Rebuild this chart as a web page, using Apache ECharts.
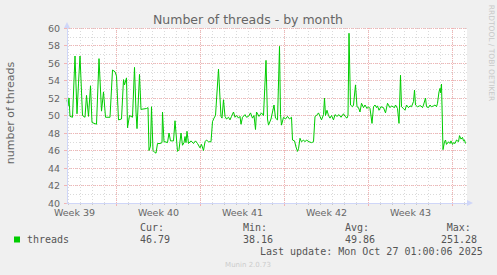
<!DOCTYPE html>
<html>
<head>
<meta charset="utf-8">
<script src="https://cdn.jsdelivr.net/npm/echarts@6/dist/echarts.min.js"></script>
<style>
html,body{margin:0;padding:0;background:#f0f0f0;}
#chart{width:497px;height:275px;}
</style>
</head>
<body>
<div id="chart"></div>
<script>
// Time: hours since the start of Week 40 (Monday 00:00)
const hours = [
  -99,-97,-95,-93,-88,-83,-79,-76,-73,-68,-63,-60,-56,-52,-49,-40,-35,-30,-26,-22,
  -13,-8,-3,0,4,10,14,16,20,22,26,32,36,39,41,46,49,60,63,65,
  68,70,73,76,79,82,87,91,92,95,
  97,102,105,108,114,117,122,125,129,132,135,137,139,141,144,149,154,158,162,167,
  170,174,177,180,184,189,192,195,198,204,207,209,211,214,217,220,224,227,230,234,
  237,240,244,247,249,252,257,260,264,268,272,275,278,280,285,290,294,299,302,
  304,309,315,318,322,326,328,330,334,338,342,346,350,352,356,359,362,364,367,370,
  374,377,380,385,390,394,397,400,404,407,410,414,416,418,421,424,427,430,434,437,
  441,445,449,454,457,461,463,465,468,472,474,478,481,484,487,490,494,497,501,
  504,507,511,514,517,520,522,525,529,534,538,542,547,550,556,558,562,565,568,570,
  574,577,580,584,587,590,594,596,598,602,606,609,612,614,618,620,624,627,630,634,
  637,640,642,645,647,648,650,653,656,658,660,664,667,669,672,674,677,680,684,686,
  689,692,694,696,698
];
const threads = [
  51.8,51.1,52.0,49.9,49.8,56.8,50.2,53.7,56.8,50.0,49.8,52.3,49.9,53.4,49.2,49.0,56.5,50.5,52.7,49.8,
  49.8,55.2,55.0,54.5,49.5,49.6,54.1,53.5,54.3,48.6,50.0,49.8,55.5,50.4,48.5,54.7,50.7,50.8,50.9,46.0,
  46.5,51.0,46.0,45.8,45.7,46.8,46.8,46.9,50.4,47.0,
  47.0,46.9,48.0,47.1,47.1,49.4,45.9,46.1,48.0,46.6,46.9,47.6,46.9,48.2,46.8,47.1,46.8,47.1,46.8,46.3,
  46.7,46.0,47.0,47.2,47.0,47.0,49.3,49.7,50.0,55.3,52.0,49.9,49.7,51.8,49.9,49.6,49.8,49.5,49.9,50.4,
  49.8,50.0,49.7,49.9,49.0,49.8,50.1,49.8,49.9,50.3,49.7,50.0,48.4,50.4,49.9,50.3,50.0,56.3,49.6,
  48.9,49.6,51.2,49.7,49.5,57.9,50.1,48.9,49.8,49.6,49.9,49.6,49.8,47.2,47.1,46.4,45.9,46.2,47.4,47.0,
  47.2,47.0,47.2,47.0,46.9,47.0,49.9,50.0,50.3,49.9,49.5,50.1,52.0,50.0,50.6,50.0,49.7,50.0,49.5,50.1,
  49.9,50.1,49.8,50.2,49.9,49.7,50.0,59.4,51.2,51.0,51.2,53.5,51.0,50.9,50.4,51.4,50.9,51.2,50.8,
  51.0,50.8,49.1,51.0,51.2,50.9,51.1,50.6,51.0,50.9,50.3,51.4,50.9,51.1,50.9,51.2,50.8,49.1,54.6,51.0,
  50.8,50.6,51.2,50.9,51.1,51.0,51.6,52.9,51.2,51.0,51.1,51.1,50.9,51.2,52.0,51.0,50.9,51.2,51.0,51.1,
  51.2,51.0,51.4,52.7,53.1,52.6,53.6,46.1,47.0,47.2,46.7,47.0,46.8,47.1,46.7,46.9,46.8,47.2,47.0,47.7,
  47.3,47.5,47.1,47.2,46.8
];
const weekLabels = ['Week 39','Week 40','Week 41','Week 42','Week 43'];
const weekLabelPos = [-84, 84, 252, 420, 588];
const weekLines = [0, 168, 336, 504, 672];
const legendNames = ['Cur:','Min:','Avg:','Max:'];
const legendValues = ['46.79','38.16','49.86','251.28'];
const seriesName = 'threads';
const lastUpdate = 'Last update: Mon Oct 27 01:00:06 2025';

const X_MIN = -99, X_MAX = 701;
const dayLines = [];
for (let h = -96; h <= X_MAX; h += 24) dayLines.push(h);

const FONT = '"DejaVu Sans", sans-serif';
const MONO = '"DejaVu Sans Mono", monospace';
const AXIS_COL = '#CFD6F8';
const GRID_COL = '#dadada';
const MGRID_COL = '#f2b4b4';
const TXT = '#666666';

const chart = echarts.init(document.getElementById('chart'), null, {renderer: 'svg'});
const data = hours.map((h, i) => [h, threads[i]]);

const xBase = {type: 'value', min: X_MIN, max: X_MAX, position: 'bottom', gridIndex: 0};
const yBase = {type: 'value', min: 40, max: 60, position: 'left', gridIndex: 0};

chart.setOption({
  animation: false,
  backgroundColor: '#f0f0f0',
  grid: {left: 67, top: 28, width: 400, height: 175, show: true, backgroundColor: '#ffffff',
         borderWidth: 0, containLabel: false, outerBoundsMode: 'none'},
  xAxis: [
    Object.assign({}, xBase, {
      axisLine: {show: false, onZero: false},
      axisTick: {show: true, customValues: dayLines, length: 2, lineStyle: {color: '#c8c8c8'}},
      axisLabel: {show: false},
      splitLine: {show: true, lineStyle: {color: GRID_COL, width: 1, type: [1, 2]}}
    }),
    Object.assign({}, xBase, {
      axisLine: {show: false, onZero: false},
      axisTick: {show: true, customValues: weekLines, length: 3, lineStyle: {color: MGRID_COL}},
      axisLabel: {show: false},
      splitLine: {show: true, lineStyle: {color: MGRID_COL, width: 1, type: [1, 1]}}
    }),
    Object.assign({}, xBase, {
      z: 3,
      axisLine: {show: true, onZero: false, lineStyle: {color: AXIS_COL, width: 1},
                 symbol: ['none', 'triangle'], symbolSize: [6, 6], symbolOffset: [0, 3]},
      axisTick: {show: false},
      axisLabel: {show: true, customValues: weekLabelPos, margin: 4, color: TXT,
                  fontSize: 9.5, fontFamily: FONT,
                  formatter: v => weekLabels[weekLabelPos.indexOf(Math.round(v))] || ''},
      splitLine: {show: false}
    })
  ],
  yAxis: [
    Object.assign({}, yBase, {
      interval: 1,
      axisLine: {show: false, onZero: false},
      axisTick: {show: false},
      axisLabel: {show: false},
      splitLine: {show: true, lineStyle: {color: GRID_COL, width: 1, type: [1, 2]}}
    }),
    Object.assign({}, yBase, {
      interval: 2,
      axisLine: {show: false, onZero: false},
      axisTick: {show: true, length: 3, lineStyle: {color: MGRID_COL}},
      axisLabel: {show: true, margin: 7, color: TXT, fontSize: 9.5, fontFamily: FONT},
      splitLine: {show: true, lineStyle: {color: MGRID_COL, width: 1, type: [1, 1]}}
    }),
    Object.assign({}, yBase, {
      z: 3,
      interval: 2,
      axisLine: {show: true, onZero: false, lineStyle: {color: AXIS_COL, width: 1},
                 symbol: ['none', 'triangle'], symbolSize: [6, 6], symbolOffset: [0, 3]},
      axisTick: {show: false},
      axisLabel: {show: false},
      splitLine: {show: false}
    })
  ],
  series: [{
    name: seriesName,
    type: 'line',
    xAxisIndex: 0,
    yAxisIndex: 0,
    data: data,
    showSymbol: false,
    symbol: 'none',
    lineStyle: {color: '#00cc00', width: 1},
    itemStyle: {color: '#00cc00'},
    z: 2
  }],
  graphic: [
    {type: 'text', x: 248, y: 19, style: {text: 'Number of threads - by month', fill: TXT,
      fontSize: 12.5, fontFamily: FONT, align: 'center', verticalAlign: 'middle'}},
    {type: 'text', x: 10, y: 113, rotation: Math.PI / 2, style: {text: 'number of threads', fill: TXT,
      fontSize: 11, fontFamily: FONT, align: 'center', verticalAlign: 'middle'}},
    {type: 'text', x: 491, y: 53, rotation: -Math.PI / 2, style: {text: 'RRDTOOL / TOBI OETIKER', fill: '#c8c8c8',
      fontSize: 7.5, fontFamily: FONT, align: 'center', verticalAlign: 'middle'}},
    {type: 'rect', shape: {x: 14, y: 236.5, width: 6, height: 6}, style: {fill: '#00cc00'}},
    {type: 'text', x: 27, y: 239.5, style: {text: seriesName, fill: '#555', fontSize: 10, fontFamily: MONO,
      align: 'left', verticalAlign: 'middle'}},
    {type: 'text', x: 140, y: 227.5, style: {text: legendNames[0], fill: '#555', fontSize: 10, fontFamily: MONO, verticalAlign: 'middle'}},
    {type: 'text', x: 140, y: 239.5, style: {text: legendValues[0], fill: '#555', fontSize: 10, fontFamily: MONO, verticalAlign: 'middle'}},
    {type: 'text', x: 243, y: 227.5, style: {text: legendNames[1], fill: '#555', fontSize: 10, fontFamily: MONO, verticalAlign: 'middle'}},
    {type: 'text', x: 243, y: 239.5, style: {text: legendValues[1], fill: '#555', fontSize: 10, fontFamily: MONO, verticalAlign: 'middle'}},
    {type: 'text', x: 345, y: 227.5, style: {text: legendNames[2], fill: '#555', fontSize: 10, fontFamily: MONO, verticalAlign: 'middle'}},
    {type: 'text', x: 345, y: 239.5, style: {text: legendValues[2], fill: '#555', fontSize: 10, fontFamily: MONO, verticalAlign: 'middle'}},
    {type: 'text', x: 446.7, y: 227.5, style: {text: legendNames[3], fill: '#555', fontSize: 10, fontFamily: MONO, verticalAlign: 'middle'}},
    {type: 'text', x: 441, y: 239.5, style: {text: legendValues[3], fill: '#555', fontSize: 10, fontFamily: MONO, verticalAlign: 'middle'}},
    {type: 'text', x: 482.7, y: 251.5, style: {text: lastUpdate, fill: '#555', fontSize: 10, fontFamily: MONO,
      align: 'right', verticalAlign: 'middle'}},
    {type: 'text', x: 248, y: 264.5, style: {text: 'Munin 2.0.73', fill: '#cccccc', fontSize: 7, fontFamily: FONT,
      align: 'center', verticalAlign: 'middle'}}
  ]
});
</script>
</body>
</html>
